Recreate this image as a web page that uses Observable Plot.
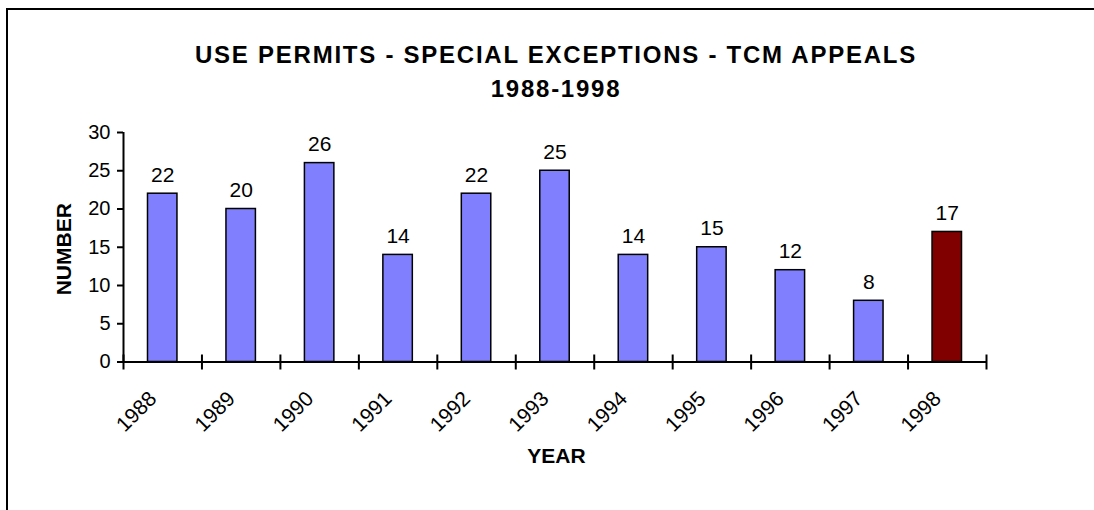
<!DOCTYPE html>
<html><head><meta charset="utf-8">
<script src="https://cdn.jsdelivr.net/npm/d3@7"></script>
<script src="https://cdn.jsdelivr.net/npm/@observablehq/plot@0.6"></script>
<style>
html,body{margin:0;padding:0;background:#fff;overflow:hidden;width:1094px;height:510px;}
#wrap{position:relative;width:1094px;height:510px;overflow:hidden;font-family:Arial,"Liberation Sans",sans-serif;}
#hline{position:absolute;left:6px;top:8px;width:1200px;height:2px;background:#000;}
#vline{position:absolute;left:6px;top:8px;width:2px;height:502px;background:#000;}
#title{position:absolute;left:0;top:38px;width:1112px;text-align:center;font-weight:bold;font-size:24px;line-height:34px;letter-spacing:1.75px;color:#000;}
#chart{position:absolute;left:0;top:120px;}
</style></head>
<body><div id="wrap"><div id="hline"></div><div id="vline"></div><div id="title"></div><div id="chart"></div></div>
<script>
const titleLines = ["USE PERMITS - SPECIAL EXCEPTIONS - TCM APPEALS", "1988-1998"];
const years = ["1988","1989","1990","1991","1992","1993","1994","1995","1996","1997","1998"];
const counts = [22, 20, 26, 14, 22, 25, 14, 15, 12, 8, 17];
const yTicks = [0, 5, 10, 15, 20, 25, 30];
const highlightYear = "1998";
const xTitle = "YEAR";
const yTitle = "NUMBER";

document.getElementById("title").innerHTML = titleLines.join("<br>");

const data = years.map((year, i) => ({year, i, count: counts[i]}));
const font = 'Arial, "Liberation Sans", sans-serif';

const plot = Plot.plot({
  width: 1094, height: 390,
  marginLeft: 123, marginRight: 108, marginTop: 12, marginBottom: 148.5,
  x: {type: "linear", domain: [0, years.length], axis: null},
  y: {domain: [0, 30], axis: null},
  style: {fontFamily: font, fontSize: "20px", background: "transparent", overflow: "visible", color: "#000"},
  marks: [
    Plot.rectY(data, {x1: "i", x2: d => d.i + 1, y: "count", insetLeft: 24.5, insetRight: 24.5,
      fill: d => d.year === highlightYear ? "#800000" : "#8080FF", stroke: "#000", strokeWidth: 1.5}),
    Plot.ruleY([0], {stroke: "#000", strokeWidth: 2}),
    Plot.ruleX([0], {y1: 0, y2: 30, stroke: "#000", strokeWidth: 2}),
    Plot.ruleX(d3.range(years.length + 1), {y1: 0, y2: 0, insetTop: 8, insetBottom: 7, stroke: "#000", strokeWidth: 2}),
    Plot.axisY(yTicks, {tickSize: 6, tickPadding: 7, strokeWidth: 2, fontSize: 20, label: null, tickFormat: d => String(d)}),
    Plot.text(data, {x: d => d.i + 0.5, y: "count", text: d => String(d.count), dy: -12, lineAnchor: "bottom", fontSize: 21}),
    Plot.text(data, {x: d => d.i + 0.5, y: 0, text: "year", rotate: -45, textAnchor: "end", lineAnchor: "bottom", dy: 38, dx: -5, fontSize: 21}),
    Plot.text([yTitle], {text: d => d, frameAnchor: "left", textAnchor: "middle", lineAnchor: "middle", rotate: -90, dx: -59.5, dy: 2, fontWeight: "bold", fontSize: 21}),
    Plot.text([xTitle], {text: d => d, frameAnchor: "bottom", textAnchor: "middle", lineAnchor: "middle", dy: 94.5, dx: 1.5, fontWeight: "bold", fontSize: 21})
  ]
});
document.getElementById("chart").appendChild(plot);
</script>
</body></html>
